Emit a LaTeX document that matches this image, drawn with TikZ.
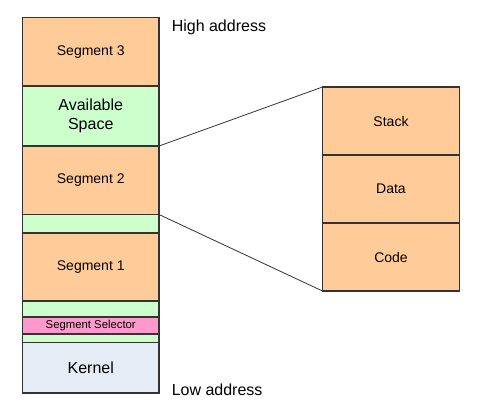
\documentclass[tikz,border=0pt]{standalone}
\usepackage{fontspec}
\setmainfont{Liberation Sans}
\definecolor{segor}{HTML}{FFCC99}
\definecolor{avgr}{HTML}{CCFFCC}
\definecolor{selpk}{HTML}{FF99CC}
\definecolor{kern}{HTML}{E6ECF6}
\definecolor{bord}{HTML}{333333}
\begin{document}
\begin{tikzpicture}[x=0.75pt,y=-0.75pt,
  blk/.style={draw=bord,line width=0.8pt},
  lbl/.style={font=\fontsize{10.5}{12}\selectfont},
  big/.style={font=\fontsize{12}{14}\selectfont,align=center},
  sm/.style={font=\fontsize{8.5}{10}\selectfont},
  zoomln/.style={draw=bord,line width=0.6pt}]
\useasboundingbox (0,0) rectangle (480,404);
% left column
\path[blk,fill=segor] (22.5,17.5) rectangle (159,86) node[midway,lbl] (s3) {Segment 3};
\path[blk,fill=avgr] (22.5,86) rectangle (159,146) node[midway,big] (av) {Available\\Space};
\path[blk,fill=segor] (22.5,146) rectangle (159,214.5) node[midway,lbl] (s2) {Segment 2};
\path[blk,fill=avgr] (22.5,214.5) rectangle (159,233) node[midway] (g1) {};
\path[blk,fill=segor] (22.5,233) rectangle (159,301) node[midway,lbl] (s1) {Segment 1};
\path[blk,fill=avgr] (22.5,301) rectangle (159,317) node[midway] (g2) {};
\path[blk,fill=selpk] (22.5,317) rectangle (159,334) node[midway,sm] (sel) {Segment Selector};
\path[blk,fill=avgr] (22.5,334) rectangle (159,342.5) node[midway] (g3) {};
\path[blk,fill=kern] (22.5,342.5) rectangle (159,393) node[midway,big] (k) {Kernel};
% right column
\path[blk,fill=segor] (322.5,87) rectangle (459.5,155) node[midway,lbl] (st) {Stack};
\path[blk,fill=segor] (322.5,155) rectangle (459.5,223) node[midway,lbl] (da) {Data};
\path[blk,fill=segor] (322.5,223) rectangle (459.5,291) node[midway,lbl] (co) {Code};
% zoom lines
\coordinate (a1) at (159,146);
\coordinate (a2) at (159,214.5);
\coordinate (b1) at (322.5,87);
\coordinate (b2) at (322.5,291);
\draw[zoomln] (a1) -- (b1);
\draw[zoomln] (a2) -- (b2);
% address labels
\node[anchor=base west,inner sep=0pt,font=\fontsize{12}{14}\selectfont] (hi) at (171.5,31.5) {High address};
\node[anchor=base west,inner sep=0pt,font=\fontsize{12}{14}\selectfont] (lo) at (171.5,395) {Low address};
\end{tikzpicture}
\end{document}
